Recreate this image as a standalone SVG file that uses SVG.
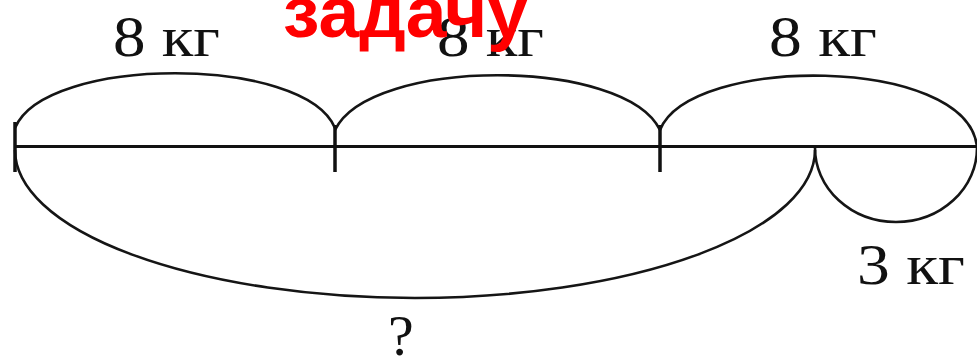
<svg xmlns="http://www.w3.org/2000/svg" width="977" height="361" viewBox="0 0 977 361">
<style>
.ln{fill:none;stroke:#111;stroke-width:3;stroke-linecap:butt}
.arc{fill:none;stroke:#151515;stroke-width:2.6}
.tk{stroke:#111;stroke-width:3.5}
.lbl{font-family:"Liberation Serif","Times New Roman",serif;font-size:58px;fill:#111}
.red{font-family:"Liberation Sans",Arial,sans-serif;font-weight:bold;font-size:72px;fill:#ff0000}
</style>
<rect width="977" height="361" fill="#fff"/>
<g id="connectors">
<line class="ln" x1="15" y1="146.5" x2="977" y2="146.5"/>
<path class="arc" d="M15,128 C45,55 305,55 335,128"/>
<path class="arc" d="M335,130 C370,57 625,57 660,130"/>
<path class="arc" d="M660,130 C690,55 965,55 977,146"/>
<path class="arc" d="M15,150 A400,148 0 0 0 815,150"/>
<path class="arc" d="M815,148 A81,74 0 0 0 977,148"/>
</g>
<g id="tick-0"><line class="tk" x1="15" y1="122" x2="15" y2="172"/></g>
<g id="tick-1"><line class="tk" x1="335" y1="125" x2="335" y2="172"/></g>
<g id="tick-2"><line class="tk" x1="660" y1="125" x2="660" y2="172"/></g>
<g id="label-1"><text class="lbl" x="113" y="56" textLength="107" lengthAdjust="spacingAndGlyphs">8 кг</text></g>
<g id="label-2"><text class="lbl" x="437" y="56" textLength="107" lengthAdjust="spacingAndGlyphs">8 кг</text></g>
<g id="label-3"><text class="lbl" x="769" y="56" textLength="108" lengthAdjust="spacingAndGlyphs">8 кг</text></g>
<g id="label-4"><text class="lbl" x="857" y="284" textLength="108" lengthAdjust="spacingAndGlyphs">3 кг</text></g>
<g id="label-q"><text class="lbl" x="388" y="355">?</text></g>
<g id="title"><text class="red" x="283" y="37" textLength="245" lengthAdjust="spacingAndGlyphs">задачу</text></g>
</svg>
